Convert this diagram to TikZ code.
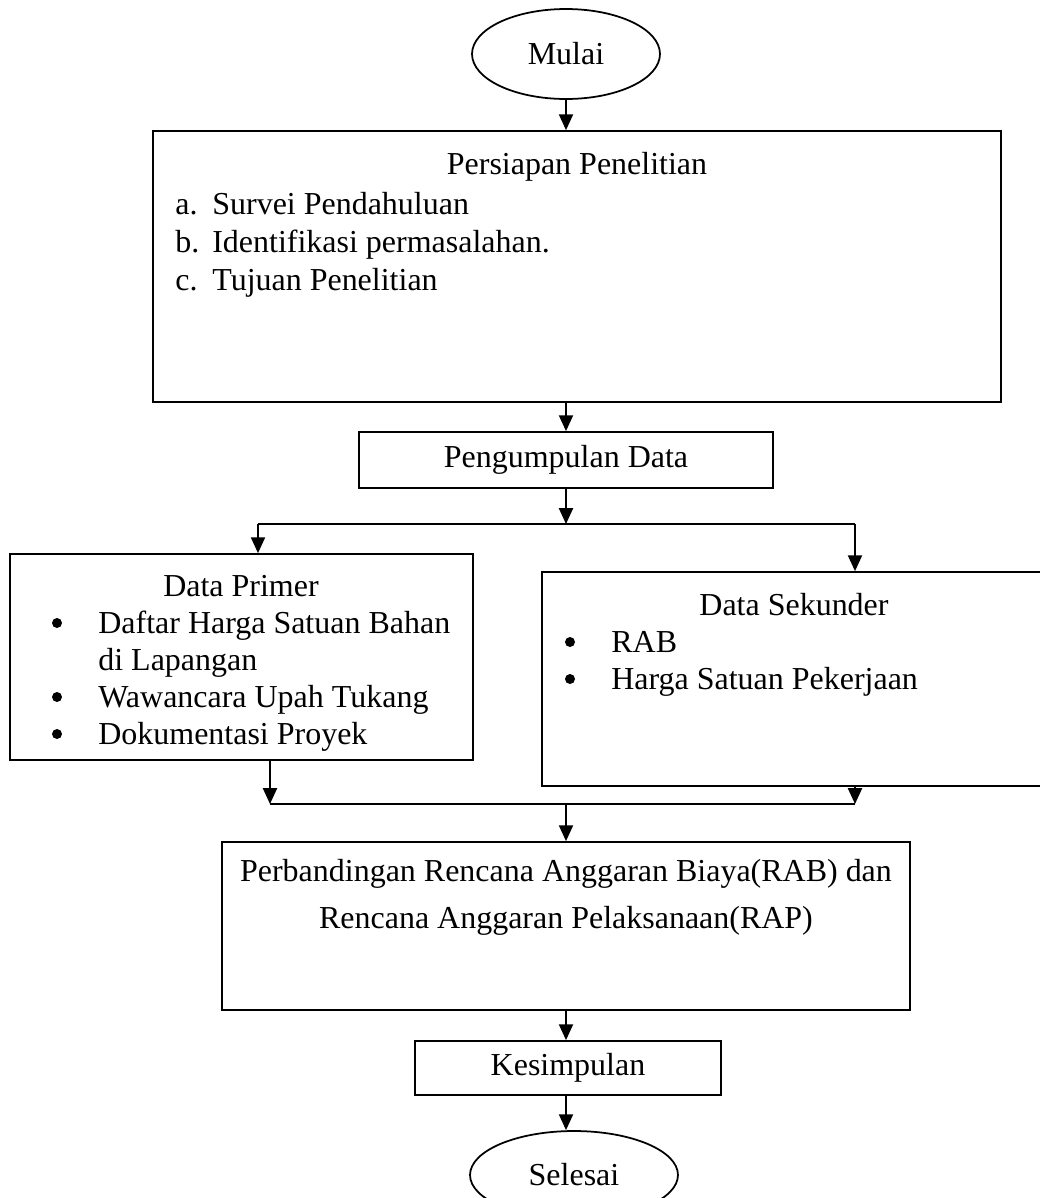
\documentclass[tikz,border=0pt]{standalone}
\usepackage{fontspec}
\setmainfont{Liberation Serif}
\usetikzlibrary{shapes.geometric,arrows.meta}
\begin{document}
\begin{tikzpicture}[x=0.02cm,y=-0.02cm,
  font=\fontsize{18.2pt}{21.6pt}\selectfont,
  box/.style={draw,line width=1pt,inner sep=0pt},
  oval/.style={draw,ellipse,line width=1pt,inner sep=0pt},
  txt/.style={inner sep=0pt,anchor=base},
  ltxt/.style={inner sep=0pt,anchor=base west},
  bul/.style={circle,fill,inner sep=0pt,minimum size=0.2cm},
  arr/.style={line width=1pt,-{Triangle[length=9pt,width=8pt]}},
  ln/.style={line width=1pt}]
\useasboundingbox (0,0) rectangle (1040,1198);

% start
\node[oval,minimum width=3.76cm,minimum height=1.8cm] (mulai) at (566,54) {Mulai};

% Persiapan
\node[box,minimum width=16.96cm,minimum height=5.42cm] (persiapan) at (577,266.5) {};
\node[txt] (pt) at (577,174) {Persiapan Penelitian};
\node[ltxt] (pa) at (175,214) {\makebox[0.74cm][l]{a.}Survei Pendahuluan};
\node[ltxt] (pb) at (175,252) {\makebox[0.74cm][l]{b.}Identifikasi permasalahan.};
\node[ltxt] (pc) at (175,290) {\makebox[0.74cm][l]{c.}Tujuan Penelitian};

% Pengumpulan
\node[box,minimum width=8.28cm,minimum height=1.12cm] (peng) at (566,460) {Pengumpulan Data};

% split
\coordinate (s0) at (566,524);
\coordinate (sl) at (258,524);
\coordinate (sr) at (855,524);

% Data Primer
\node[box,minimum width=9.26cm,minimum height=4.12cm] (primer) at (241.5,657) {};
\node[txt] (prt) at (241,596) {Data Primer};
\node[bul] (b1) at (57,623) {};
\node[ltxt] (pr1) at (98,633) {Daftar Harga Satuan Bahan};
\node[ltxt] (pr1b) at (98,670) {di Lapangan};
\node[bul] (b2) at (57,697) {};
\node[ltxt] (pr2) at (98,707) {Wawancara Upah Tukang};
\node[bul] (b3) at (57,734) {};
\node[ltxt] (pr3) at (98,744) {Dokumentasi Proyek};

% Data Sekunder
\node[box,minimum width=10.16cm,minimum height=4.28cm] (sekunder) at (796,679) {};
\node[txt] (skt) at (794,615) {Data Sekunder};
\node[bul] (b4) at (570,642) {};
\node[ltxt] (sk1) at (611,652) {RAB};
\node[bul] (b5) at (570,679) {};
\node[ltxt] (sk2) at (611,689) {Harga Satuan Pekerjaan};

% join
\coordinate (jl) at (270,804);
\coordinate (jr) at (855,804);
\coordinate (j0) at (566,804);

% Perbandingan
\node[box,minimum width=13.76cm,minimum height=3.36cm] (perb) at (566,926) {};
\node[txt] (pb1) at (566,881) {Perbandingan Rencana Anggaran Biaya(RAB) dan};
\node[txt] (pb2) at (566,928) {Rencana Anggaran Pelaksanaan(RAP)};

% Kesimpulan
\node[box,minimum width=6.12cm,minimum height=1.08cm] (kes) at (568,1068) {Kesimpulan};

% end
\node[oval,minimum width=4.16cm,minimum height=1.76cm] (selesai) at (574,1175) {Selesai};

% connectors
\draw[arr] (mulai.south) -- (mulai.south |- persiapan.north);
\draw[arr] (persiapan.south -| s0) -- (peng.north -| s0);
\draw[arr] (peng.south -| s0) -- (s0);
\draw[ln] (sl) -- (sr);
\draw[arr] (sl) -- (primer.north -| sl);
\draw[arr] (sr) -- (sekunder.north -| sr);
\draw[arr] (primer.south -| jl) -- (jl);
\draw[arr] (sekunder.south -| jr) -- (jr);
\draw[ln] (jl) -- (jr);
\draw[arr] (j0) -- (perb.north -| j0);
\draw[arr] (perb.south -| j0) -- (kes.north -| j0);
\draw[arr] (kes.south -| j0) -- (selesai.north -| j0);
\end{tikzpicture}
\end{document}
